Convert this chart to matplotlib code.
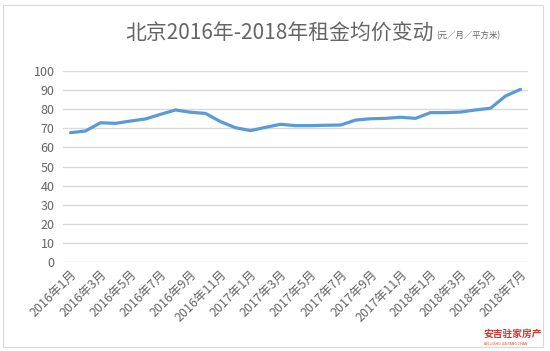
import numpy as np
import matplotlib
matplotlib.use("Agg")
import matplotlib.pyplot as plt
from matplotlib.patches import Rectangle

plt.rcParams['font.family'] = ['Noto Sans CJK SC', 'DejaVu Sans']

# monthly average rent, 2016-01 .. 2018-07
months = [f"{y}年{m}月" for y in (2016, 2017, 2018) for m in range(1, 13)][:31]
rent = [67.7, 68.6, 72.9, 72.6, 73.8, 74.9, 77.3, 79.6, 78.4, 77.8, 73.5,
        70.3, 68.8, 70.5, 72.1, 71.4, 71.4, 71.6, 71.7, 74.3, 75.0, 75.2,
        75.8, 75.2, 78.2, 78.2, 78.5, 79.6, 80.5, 86.9, 90.4]
yticks = list(range(0, 101, 10))

gray = "#656565"
fig = plt.figure(figsize=(5.5, 3.51), dpi=100)
ax = fig.add_axes([63/550, 1-262/351, 465/550, 191/351])

x = np.arange(len(rent))
ax.plot(x, rent, color="#5b9bd5", lw=2.3, solid_capstyle="round")

ax.set_xlim(-0.5, len(rent) - 0.5)
ax.set_ylim(0, 100)
ax.set_yticks(yticks)
ax.set_yticklabels([str(v) for v in yticks], color=gray, fontsize=9)
ax.set_xticks(x[::2])
ax.set_xticklabels(months[::2], rotation=45, ha="right", rotation_mode="anchor",
                   color=gray, fontsize=9)
ax.tick_params(length=0, pad=6)
ax.tick_params(axis="x", pad=4)
ax.grid(axis="y", color="#d9d9d9", lw=1)
ax.set_axisbelow(True)
for s in ax.spines.values():
    s.set_visible(False)

# title
fig.text(125/550, 1-33/351, "北京2016年-2018年租金均价变动", color=gray,
         fontsize=15, va="center", ha="left")
fig.text(436/550, 1-36/351, "(元／月／平方米)", color=gray, fontsize=6,
         va="center", ha="left")

# chart frame
fig.patches.append(Rectangle((3/550, 4/351), 540/550, 342/351, transform=fig.transFigure,
                             fill=False, ec="#d9d9d9", lw=0.8))

# watermark
fig.text(483/550, 1-334/351, "安吉驻家房产", color="#d9342b", fontsize=7,
         fontweight="bold", va="center", ha="left")
fig.text(484/550, 1-344/351, "AN JI ZHU JIA FANG CHAN", color="#d9342b", fontsize=2.6,
         va="center", ha="left")

fig.savefig("out.png", dpi=100)
